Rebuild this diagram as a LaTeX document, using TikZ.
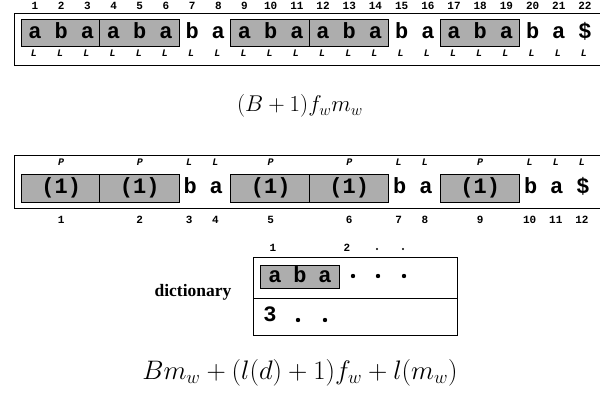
\documentclass[tikz,border=0pt]{standalone}
\usepackage{fontspec}
\newfontfamily\courfont{Liberation Mono}
\newfontfamily\dictfont{Liberation Serif}
\begin{document}
\begin{tikzpicture}[x=1pt,y=-1pt,
	chr/.style={font=\courfont\bfseries\fontsize{22}{22}\selectfont,inner sep=0pt,anchor=base},
	idx/.style={font=\courfont\bfseries\fontsize{11}{11}\selectfont,inner sep=0pt,anchor=base},
	tag/.style={font=\courfont\bfseries\itshape\fontsize{10}{10}\selectfont,inner sep=0pt,anchor=base},
	grey/.style={draw,fill=black!32,line width=0.9pt},
	frame/.style={line width=0.7pt},
	dot/.style={circle,fill,inner sep=0pt,minimum size=4.4pt},
	cost/.style={font=\huge,inner sep=0pt}]
	\useasboundingbox (0,0) rectangle (600,402);
	% text with its factors
	\draw[frame](600,13)--(14,13)--(14,65)--(600,65);
	\foreach \s/\e in {1/3,4/6,9/11,12/14,17/19}
		\draw[grey]({35+26.19*(\s-1)-14},19)rectangle({35+26.19*(\e-1)+13},46);
	\foreach \c [count=\i] in {a,b,a,a,b,a,b,a,a,b,a,a,b,a,b,a,a,b,a,b,a,\$}{
		\node[idx](n\i)at({35+26.19*(\i-1)},9){\i};
		\node[chr](t\i)at({35+26.19*(\i-1)},38){\c};
		\node[tag](l\i)at({35+26.19*(\i-1)-1},56){L};
	}
	\node[cost](costA)at(300,106){\scalebox{1.1}{$(B+1)f_wm_w$}};
	% parsed text
	\draw[frame](600,155)--(14,155)--(14,208)--(600,208);
	\foreach \s/\e/\n in {1/3/1,4/6/2,9/11/5,12/14/6,17/19/9}{
		\draw[grey]({35+26.19*(\s-1)-14},174)rectangle({35+26.19*(\e-1)+13},202);
		\node[chr](p\n)at({35+26.19*(\s/2+\e/2-1)},193){(1)};
		\node[tag](q\n)at({35+26.19*(\s/2+\e/2-1)},165){P};
		\node[idx](m\n)at({35+26.19*(\s/2+\e/2-1)},223){\n};
	}
	\foreach \k/\c/\n in {7/b/3,8/a/4,15/b/7,16/a/8,20/b/10,21/a/11,22/\$/12}{
		\node[chr](p\n)at({35+26.19*(\k-1)-2},193){\c};
		\node[tag](q\n)at({35+26.19*(\k-1)-3},165){L};
		\node[idx](m\n)at({35+26.19*(\k-1)-3},223){\n};
	}
	% dictionary
	\node[font=\dictfont\bfseries\fontsize{17.5}{17.5}\selectfont](dict)at(193,292){dictionary};
	\draw[frame](253,257)rectangle(457,335) (253,298)--(457,298);
	\draw[grey](260,265)rectangle(339,288);
	\foreach \c [count=\i] in {a,b,a}
		\node[chr](d\i)at({250+25*\i},282){\c};
	\foreach \x [count=\i] in {353,378,404}
		\node[dot](e\i)at(\x,276){};
	\node[idx](h1)at(273,251){1};
	\node[idx](h2)at(347,251){2};
	\node[dot,minimum size=2.2pt](h3)at(377,249){};
	\node[dot,minimum size=2.2pt](h4)at(403,249){};
	\node[chr](r1)at(270,321){3};
	\node[dot](r2)at(298,320){};
	\node[dot](r3)at(325,320){};
	\node[cost](costB)at(300,373){\scalebox{1.29}{$Bm_w+(l(d)+1)f_w+l(m_w)$}};
\end{tikzpicture}
\end{document}
